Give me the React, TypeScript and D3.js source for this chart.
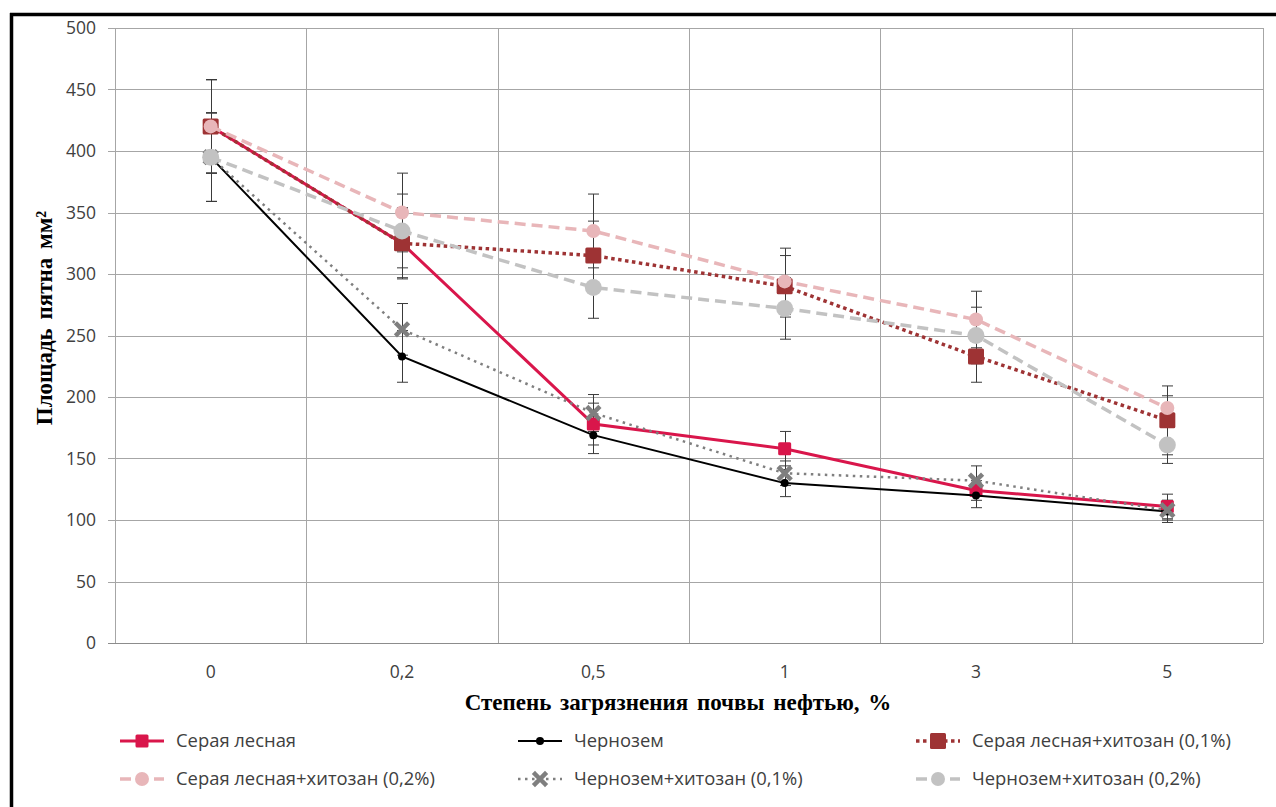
import React from "react";
import * as d3 from "d3";

const categories = ["0", "0,2", "0,5", "1", "3", "5"];
const yTicks = [0, 50, 100, 150, 200, 250, 300, 350, 400, 450, 500];

const seriesNames = [
  "Серая лесная",
  "Чернозем",
  "Серая лесная+хитозан (0,1%)",
  "Серая лесная+хитозан (0,2%)",
  "Чернозем+хитозан (0,1%)",
  "Чернозем+хитозан (0,2%)",
];

const greyForest = [420, 325, 178, 158, 124, 111];
const chernozem = [395, 233, 169, 130, 120, 107];
const greyForestCh01 = [420, 325, 315, 290, 233, 181];
const greyForestCh02 = [420, 350, 335, 294, 263, 191];
const chernozemCh01 = [395, 255, 187, 138, 132, 108];
const chernozemCh02 = [395, 335, 289, 272, 250, 161];

const errGreyForest = [38, 28, 17, 14, 8, 10];
const errChernozem = [36, 21, 15, 11, 10, 9];
const errGreyForestCh01 = [38, 29, 28, 25, 21, 28];
const errGreyForestCh02 = [38, 32, 30, 27, 23, 10];
const errChernozemCh01 = [36, 21, 15, 10, 12, 8];
const errChernozemCh02 = [36, 30, 25, 25, 23, 15];

const seriesValues = [greyForest, chernozem, greyForestCh01, greyForestCh02, chernozemCh01, chernozemCh02];
const seriesErrors = [errGreyForest, errChernozem, errGreyForestCh01, errGreyForestCh02, errChernozemCh01, errChernozemCh02];

type Style = {
  color: string;
  width: number;
  dash: string | null;
  marker: "square" | "circle" | "x";
  size: number;
};

const styles: Style[] = [
  { color: "#D9164B", width: 3, dash: null, marker: "square", size: 13 },
  { color: "#000000", width: 2, dash: null, marker: "circle", size: 8 },
  { color: "#9E3334", width: 3.5, dash: "3.5,3.5", marker: "square", size: 16 },
  { color: "#E8B6B9", width: 3.5, dash: "11,6", marker: "circle", size: 14 },
  { color: "#7F7F7F", width: 2.5, dash: "2.5,4.5", marker: "x", size: 13 },
  { color: "#C2C2C2", width: 3.5, dash: "11,6", marker: "circle", size: 17 },
];

const W = 1276;
const H = 807;
const left = 115;
const right = 1263;
const top = 28;
const bottom = 643;

function Marker({ s, x, y }: { s: Style; x: number; y: number }) {
  if (s.marker === "square") {
    return <rect x={x - s.size / 2} y={y - s.size / 2} width={s.size} height={s.size} fill={s.color} rx={1.5} />;
  }
  if (s.marker === "circle") {
    return <circle cx={x} cy={y} r={s.size / 2} fill={s.color} />;
  }
  const h = s.size / 2 - 1.5;
  return (
    <path
      d={`M${x - h},${y - h}L${x + h},${y + h}M${x - h},${y + h}L${x + h},${y - h}`}
      stroke={s.color}
      strokeWidth={4.5}
      strokeLinecap="square"
      fill="none"
    />
  );
}

export default function App() {
  const x = d3.scaleBand<string>().domain(categories).range([left, right]).padding(0);
  const y = d3.scaleLinear().domain([0, 500]).range([bottom, top]);
  const cx = (c: string) => (x(c) as number) + x.bandwidth() / 2;
  const line = d3
    .line<number>()
    .x((_, i) => cx(categories[i]))
    .y((d) => y(d));

  const tickFont = "'Open Sans', 'Noto Sans', sans-serif";
  const serif = "'Liberation Serif', 'Times New Roman', serif";

  const legendCols = [120, 518, 916];
  const legendRows = [741, 779];

  return (
    <div style={{ position: "fixed", left: 0, top: 0 }}>
      <svg width={W} height={H} style={{ display: "block", background: "#fff" }}>
        {/* frame */}
        <line x1={10} y1={14.5} x2={W} y2={14.5} stroke="#000" strokeWidth={3.5} />
        <line x1={11.5} y1={13} x2={11.5} y2={H} stroke="#000" strokeWidth={3.5} />

        {/* horizontal gridlines */}
        {yTicks.map((t) => (
          <line key={"h" + t} x1={108} x2={right} y1={Math.round(y(t)) + 0.5} y2={Math.round(y(t)) + 0.5} stroke="#A6A6A6" strokeWidth={1} />
        ))}
        {/* vertical gridlines at category boundaries */}
        {[...categories.map((c) => x(c) as number), right].map((v, i) => (
          <line key={"v" + i} x1={Math.round(v) + 0.5} x2={Math.round(v) + 0.5} y1={top} y2={bottom} stroke="#A6A6A6" strokeWidth={1} />
        ))}
        <line x1={108} x2={right} y1={Math.round(y(0)) + 0.5} y2={Math.round(y(0)) + 0.5} stroke="#8C8C8C" strokeWidth={1} />

        {/* y tick labels */}
        {yTicks.map((t) => (
          <text key={"yl" + t} x={96} y={y(t)} dy="0.35em" textAnchor="end" fontFamily={tickFont} fontSize={17.5} fill="#404040">
            {t}
          </text>
        ))}
        {/* x tick labels */}
        {categories.map((c) => (
          <text key={"xl" + c} x={cx(c)} y={672} dy="0.35em" textAnchor="middle" fontFamily={tickFont} fontSize={17.5} fill="#404040">
            {c}
          </text>
        ))}

        {/* axis titles */}
        <text x={678} y={710} textAnchor="middle" fontFamily={serif} fontWeight="bold" fontSize={23} fill="#000" wordSpacing={3}>
          Степень загрязнения почвы нефтью, %
        </text>
        <text
          transform={`translate(52,318) rotate(-90)`}
          textAnchor="middle"
          fontFamily={serif}
          fontWeight="bold"
          fontSize={23}
          fill="#000"
          wordSpacing={3}
        >
          Площадь пятна мм²
        </text>

        {/* error bars */}
        {seriesValues.map((vals, si) =>
          vals.map((v, i) => {
            const e = seriesErrors[si][i];
            const px = Math.round(cx(categories[i])) + 0.5;
            const y1 = y(v + e);
            const y2 = y(v - e);
            return (
              <g key={`e${si}-${i}`} stroke="#3A3A3A" strokeWidth={1}>
                <line x1={px} x2={px} y1={y1} y2={y2} />
                <line x1={px - 5.5} x2={px + 5.5} y1={y1} y2={y1} />
                <line x1={px - 5.5} x2={px + 5.5} y1={y2} y2={y2} />
              </g>
            );
          })
        )}

        {/* series lines and markers */}
        {seriesValues.map((vals, si) => {
          const s = styles[si];
          return (
            <g key={"s" + si}>
              <path d={line(vals) as string} fill="none" stroke={s.color} strokeWidth={s.width} strokeDasharray={s.dash ?? undefined} />
              {vals.map((v, i) => (
                <Marker key={i} s={s} x={cx(categories[i])} y={y(v)} />
              ))}
            </g>
          );
        })}

        {/* legend */}
        {seriesNames.map((name, si) => {
          const s = styles[si];
          const lx = legendCols[si % 3];
          const ly = legendRows[Math.floor(si / 3)];
          return (
            <g key={"lg" + si}>
              <line x1={lx} x2={lx + 44} y1={ly} y2={ly} stroke={s.color} strokeWidth={s.width} strokeDasharray={s.dash ?? undefined} />
              <Marker s={{ ...s, size: s.marker === "circle" && si !== 1 ? 14 : s.size }} x={lx + 22} y={ly} />
              <text x={lx + 56} y={ly} dy="0.35em" fontFamily={tickFont} fontSize={18.4} fill="#404040">
                {name}
              </text>
            </g>
          );
        })}
      </svg>
    </div>
  );
}
